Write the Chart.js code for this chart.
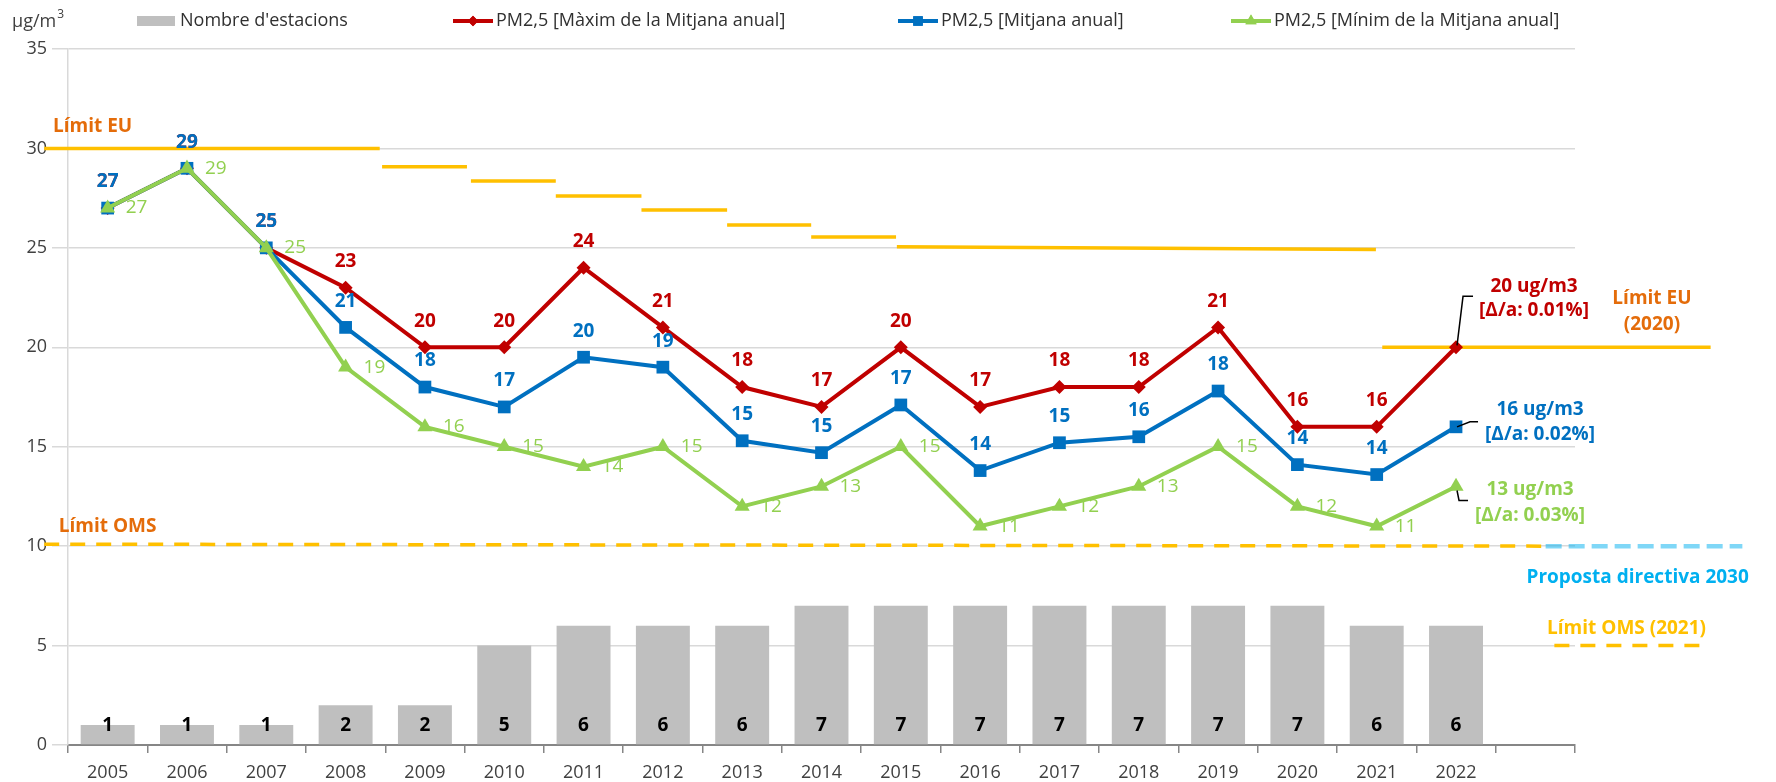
<!DOCTYPE html>
<html>
<head>
<meta charset="utf-8">
<script src="https://cdn.jsdelivr.net/npm/chart.js@4.4.1/dist/chart.umd.min.js"></script>
<style>
  html, body { margin: 0; padding: 0; background: #fff; }
</style>
</head>
<body>
<canvas id="chart" width="1776" height="782"></canvas>
<script>
// PM2,5 annual means vs. number of stations, 2005-2022
// Bars = stations, three lines = max / mean / min of the annual mean.

const YEARS = ["2005", "2006", "2007", "2008", "2009", "2010", "2011", "2012", "2013",
               "2014", "2015", "2016", "2017", "2018", "2019", "2020", "2021", "2022", ""];

const STATIONS  = [1, 1, 1, 2, 2, 5, 6, 6, 6, 7, 7, 7, 7, 7, 7, 7, 6, 6];
const PM25_MAX  = [27, 29, 25, 23, 20, 20, 24, 21, 18, 17, 20, 17, 18, 18, 21, 16, 16, 20];
const PM25_MEAN = [27, 29, 25, 21, 18, 17, 19.5, 19, 15.3, 14.7, 17.1, 13.8, 15.2, 15.5, 17.8, 14.1, 13.6, 16];
const PM25_MIN  = [27, 29, 25, 19, 16, 15, 14, 15, 12, 13, 15, 11, 12, 13, 15, 12, 11, 13];

const Y_TICKS = [0, 5, 10, 15, 20, 25, 30, 35];

// last-point callouts
const MAX_CALLOUT  = ["20 ug/m3", "[Δ/a: 0.01%]"];
const MEAN_CALLOUT = ["16 ug/m3", "[Δ/a: 0.02%]"];
const MIN_CALLOUT  = ["13 ug/m3", "[Δ/a: 0.03%]"];

// EU limit steps: [from year, to year, value at start, value at end]
const EU_LIMIT = [
  [2004.2, 2008.43, 30, 30],
  [2008.46, 2009.53, 29.08, 29.08],
  [2009.58, 2010.65, 28.36, 28.36],
  [2010.65, 2011.73, 27.61, 27.61],
  [2011.73, 2012.81, 26.91, 26.91],
  [2012.81, 2013.87, 26.15, 26.15],
  [2013.87, 2014.94, 25.54, 25.54],
  [2014.95, 2020.99, 25.05, 24.92],
  [2021.07, 2025.21, 20, 20],
];
const OMS_LIMIT      = [[2004.2, 10.1], [2023.13, 10.0]];
const PROPOSAL_2030  = [[2023.13, 10.0], [2025.61, 10.0]];
const OMS_2021       = [[2023.24, 5.0], [2025.09, 5.0]];

// free text notes: [text, year, value, colour]
const NOTES = [
  ["Límit EU", 2004.81, 31.1, "#E46C0A"],
  ["Límit OMS", 2005.0, 11.0, "#E46C0A"],
  ["Límit EU", 2024.47, 22.47, "#E46C0A"],
  ["(2020)", 2024.47, 21.16, "#E46C0A"],
  ["Proposta directiva 2030", 2024.29, 8.43, "#00B0F0"],
  ["Límit OMS (2021)", 2024.15, 5.87, "#FFC000"],
];

const FONT = "'Open Sans', 'Noto Sans', sans-serif";
const RED = "#C00000", BLUE = "#0070C0", GREEN = "#92D050", GREY = "#BFBFBF", GOLD = "#FFC000";

function segments(steps) {
  const pts = [];
  steps.forEach(([x0, x1, y0, y1]) => {
    pts.push({ x: x0, y: y0 }, { x: x1, y: y1 }, { x: x1, y: null });
  });
  return pts;
}
const toPoints = arr => arr.map(([x, y]) => ({ x, y }));

// ── labels, callouts, notes and legend ─────────────────────────────────────
const SERIES_LABELS = [
  { ds: 1, values: PM25_MAX,  color: RED,   dx: 0,  dy: -26, align: "center", weight: "bold" },
  { ds: 2, values: PM25_MEAN, color: BLUE,  dx: 0,  dy: -26, align: "center", weight: "bold" },
  { ds: 3, values: PM25_MIN,  color: GREEN, dx: 18, dy: 0,   align: "left",   weight: "normal" },
];

const CALLOUTS = [
  { ds: 1, lines: MAX_CALLOUT,  color: RED,   cx: 78, dy: [-61, -37], leader: [[1, -2], [7, -51], [17, -51]] },
  { ds: 2, lines: MEAN_CALLOUT, color: BLUE,  cx: 84, dy: [-17, 8],   leader: [[1, 0], [14, -5], [22, -5]] },
  { ds: 3, lines: MIN_CALLOUT,  color: GREEN, cx: 74, dy: [3, 29],    leader: [[1, 4], [3, 14], [12, 14]] },
];

const annotations = {
  id: "annotations",
  afterDatasetsDraw(chart) {
    const { ctx, scales } = chart;
    ctx.save();
    ctx.textBaseline = "middle";

    // station counts near the bottom of each bar
    const base = scales.y.getPixelForValue(0);
    ctx.font = `bold 19px ${FONT}`;
    ctx.fillStyle = "#000";
    ctx.textAlign = "center";
    chart.getDatasetMeta(0).data.forEach((bar, i) => {
      ctx.fillText(STATIONS[i], bar.x, base - 19);
    });

    // series value labels (last point gets a callout instead)
    SERIES_LABELS.forEach(s => {
      const pts = chart.getDatasetMeta(s.ds).data;
      ctx.font = `${s.weight} 19px ${FONT}`;
      ctx.fillStyle = s.color;
      ctx.textAlign = s.align;
      s.values.forEach((v, i) => {
        if (i === s.values.length - 1) return;
        ctx.fillText(Math.round(v), pts[i].x + s.dx, pts[i].y + s.dy);
      });
    });

    // callouts
    CALLOUTS.forEach(c => {
      const pts = chart.getDatasetMeta(c.ds).data;
      const p = pts[pts.length - 1];
      ctx.strokeStyle = "#000";
      ctx.lineWidth = 1.5;
      ctx.beginPath();
      c.leader.forEach(([dx, dy], k) => k ? ctx.lineTo(p.x + dx, p.y + dy) : ctx.moveTo(p.x + dx, p.y + dy));
      ctx.stroke();
      ctx.font = `bold 19px ${FONT}`;
      ctx.fillStyle = c.color;
      ctx.textAlign = "center";
      c.lines.forEach((t, k) => ctx.fillText(t, p.x + c.cx, p.y + c.dy[k]));
    });

    // notes
    ctx.font = `bold 19px ${FONT}`;
    ctx.textAlign = "center";
    NOTES.forEach(([t, x, y, col]) => {
      ctx.fillStyle = col;
      ctx.fillText(t, scales.xYear.getPixelForValue(x), scales.y.getPixelForValue(y));
    });
    ctx.restore();
  },

  afterDraw(chart) {
    const ctx = chart.ctx;
    ctx.save();
    ctx.textBaseline = "middle";
    ctx.textAlign = "left";
    ctx.fillStyle = "#404040";

    // unit
    ctx.font = `18px ${FONT}`;
    ctx.fillText("µg/m", 12, 22);
    const w = ctx.measureText("µg/m").width;
    ctx.font = `12px ${FONT}`;
    ctx.fillText("3", 12 + w + 1, 15);

    // legend
    const ly = 21;
    const items = [
      { x: 137, ds: 0 }, { x: 453, ds: 1 }, { x: 898, ds: 2 }, { x: 1231, ds: 3 },
    ];
    items.forEach(it => {
      const d = chart.data.datasets[it.ds];
      if (it.ds === 0) {
        ctx.fillStyle = GREY;
        ctx.fillRect(it.x, ly - 5, 38, 10);
      } else {
        ctx.strokeStyle = d.borderColor;
        ctx.lineWidth = 4;
        ctx.beginPath();
        ctx.moveTo(it.x, ly);
        ctx.lineTo(it.x + 40, ly);
        ctx.stroke();
        ctx.fillStyle = d.borderColor;
        Chart.helpers.drawPoint(ctx, {
          pointStyle: d.pointStyle, radius: d.pointRadius * 0.75, borderWidth: 0, rotation: 0,
        }, it.x + 20, ly);
        ctx.fill();
      }
      ctx.font = `18px ${FONT}`;
      ctx.fillStyle = "#303030";
      ctx.fillText(d.label, it.x + 43, ly);
    });
    ctx.restore();
  },
};

new Chart(document.getElementById("chart"), {
  type: "bar",
  data: {
    labels: YEARS,
    datasets: [
      {
        label: "Nombre d'estacions",
        data: STATIONS,
        backgroundColor: GREY,
        grouped: false,
        barPercentage: 0.68,
        categoryPercentage: 1,
        order: 4,
      },
      {
        type: "line",
        label: "PM2,5 [Màxim de la Mitjana anual]",
        data: PM25_MAX,
        borderColor: RED, backgroundColor: RED,
        borderWidth: 4, pointStyle: "rectRot", pointRadius: 7,
        pointBorderWidth: 0,
        order: 3,
      },
      {
        type: "line",
        label: "PM2,5 [Mitjana anual]",
        data: PM25_MEAN,
        borderColor: BLUE, backgroundColor: BLUE,
        borderWidth: 4, pointStyle: "rect", pointRadius: 9,
        pointBorderWidth: 0,
        order: 2,
      },
      {
        type: "line",
        label: "PM2,5 [Mínim de la Mitjana anual]",
        data: PM25_MIN,
        borderColor: GREEN, backgroundColor: GREEN,
        borderWidth: 4, pointStyle: "triangle", pointRadius: 8.7,
        pointBorderWidth: 0,
        order: 1,
      },
      {
        type: "line",
        label: "Límit EU",
        xAxisID: "xYear",
        data: segments(EU_LIMIT),
        borderColor: GOLD, borderWidth: 3.5,
        pointRadius: 0, spanGaps: false, clip: false,
        order: 5,
      },
      {
        type: "line",
        label: "Límit OMS",
        xAxisID: "xYear",
        data: toPoints(OMS_LIMIT),
        borderColor: GOLD, borderWidth: 3.5, borderDash: [15, 11],
        pointRadius: 0, clip: false,
        order: 5,
      },
      {
        type: "line",
        label: "Proposta directiva 2030",
        xAxisID: "xYear",
        data: toPoints(PROPOSAL_2030),
        borderColor: "rgba(0,176,240,0.5)", borderWidth: 4.5, borderDash: [16, 7],
        pointRadius: 0, clip: false,
        order: 5,
      },
      {
        type: "line",
        label: "Límit OMS (2021)",
        xAxisID: "xYear",
        data: toPoints(OMS_2021),
        borderColor: GOLD, borderWidth: 3.5, borderDash: [15, 11],
        pointRadius: 0, clip: false,
        order: 5,
      },
    ],
  },
  options: {
    responsive: false,
    animation: false,
    events: [],
    layout: { padding: { top: 49, right: 201, left: 0, bottom: 0 } },
    plugins: {
      legend: { display: false },
      tooltip: { enabled: false },
    },
    scales: {
      x: {
        afterFit: s => { s.height = 37; },
        grid: { drawOnChartArea: false, tickLength: 8, color: "#868686", lineWidth: 1.5 },
        border: { color: "#868686", width: 2 },
        ticks: { font: { family: FONT, size: 18 }, color: "#404040", padding: 9, maxRotation: 0, autoSkip: false },
      },
      xYear: {
        type: "linear",
        display: false,
        offset: false,
        min: 2004.5,
        max: 2023.5,
      },
      y: {
        min: 0,
        max: 35,
        afterFit: s => { s.width = 68; },
        afterBuildTicks: s => { s.ticks = Y_TICKS.map(v => ({ value: v })); },
        grid: { color: "#D9D9D9", lineWidth: 1.5, tickLength: 16 },
        border: { color: "#D9D9D9", width: 1.5 },
        ticks: { font: { family: FONT, size: 18 }, color: "#404040", padding: 5 },
      },
    },
  },
  plugins: [annotations],
});
</script>
</body>
</html>
